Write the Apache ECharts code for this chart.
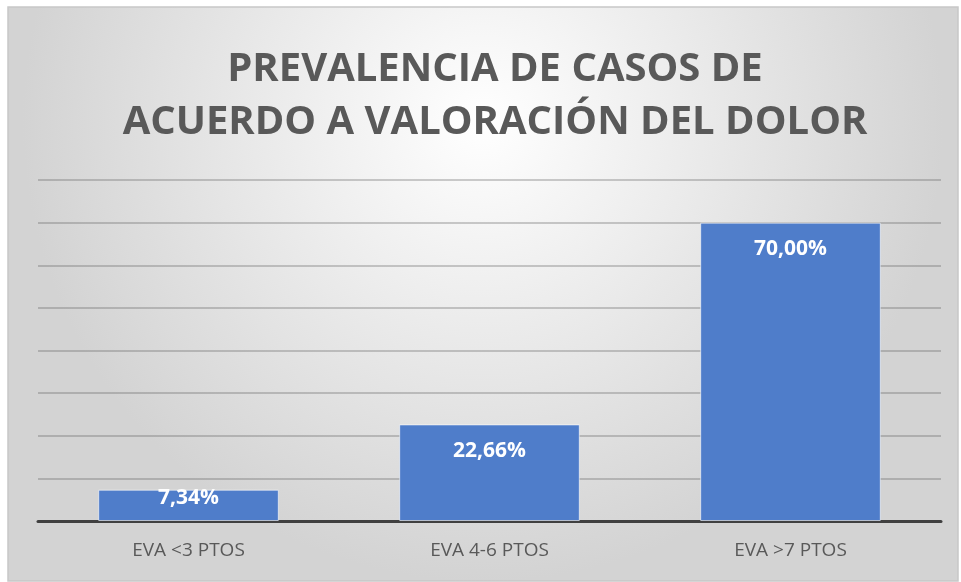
<!DOCTYPE html>
<html>
<head>
<meta charset="utf-8">
<script src="https://cdn.jsdelivr.net/npm/echarts@6/dist/echarts.min.js"></script>
<style>
  html, body { margin: 0; padding: 0; background: #fff; }
  #main { width: 961px; height: 582px; }
</style>
</head>
<body>
<div id="main"></div>
<script>
var categories = ['EVA <3 PTOS', 'EVA 4-6 PTOS', 'EVA >7 PTOS'];
var values = [7.34, 22.66, 70.00];
var titleText = 'PREVALENCIA DE CASOS DE\nACUERDO A VALORACIÓN DEL DOLOR';

var myChart = echarts.init(document.getElementById('main'));

var option = {
    backgroundColor: '#fff',
    animation: false,
    title: {
        text: titleText,
        left: 490,
        textAlign: 'center',
        top: 38,
        textStyle: {
            fontFamily: 'Open Sans',
            fontWeight: 'bold',
            fontSize: 40,
            lineHeight: 53,
            color: '#595959'
        }
    },
    graphic: [{
        type: 'rect',
        z: -10,
        shape: { x: 8, y: 7, width: 950, height: 574 },
        style: {
            fill: new echarts.graphic.RadialGradient(0.5, 0.2, 0.8, [
                { offset: 0, color: '#ffffff' },
                { offset: 1, color: '#d3d3d3' }
            ]),
            stroke: '#c8c8c8',
            lineWidth: 1.5
        }
    }],
    grid: {
        left: 38,
        right: 20,
        top: 180,
        bottom: 61
    },
    xAxis: {
        type: 'category',
        data: categories,
        axisLine: { lineStyle: { color: '#404040', width: 3 } },
        axisTick: { show: false },
        axisLabel: {
            margin: 20,
            fontFamily: 'Open Sans',
            fontSize: 19,
            color: '#595959'
        }
    },
    yAxis: {
        type: 'value',
        min: 0,
        max: 80,
        interval: 10,
        axisLabel: { show: false },
        axisLine: { show: false },
        axisTick: { show: false },
        splitLine: { lineStyle: { color: 'rgba(90,90,90,0.3)', width: 2 } }
    },
    series: [{
        type: 'bar',
        barCategoryGap: '40%',
        data: values.map(function (v, i) {
            var d = { value: v };
            if (i === 0) d.label = { distance: -2 };
            return d;
        }),
        itemStyle: {
            color: '#4f7dca',
            borderColor: 'rgba(255,255,255,0.6)',
            borderWidth: 1
        },
        label: {
            show: true,
            position: 'insideTop',
            distance: 16,
            fontFamily: 'Open Sans',
            fontWeight: 'bold',
            fontSize: 21,
            color: '#ffffff',
            formatter: function (p) {
                return p.value.toFixed(2).replace('.', ',') + '%';
            }
        }
    }]
};

myChart.setOption(option);
</script>
</body>
</html>
